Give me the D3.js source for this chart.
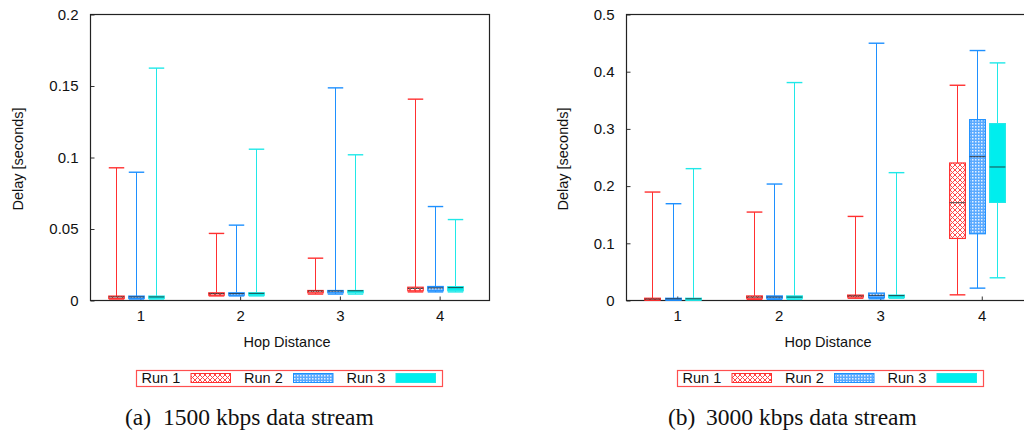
<!DOCTYPE html>
<html><head><meta charset="utf-8">
<script src="https://cdn.jsdelivr.net/npm/d3@7"></script>
<style>body{margin:0;background:#fff;overflow:hidden}</style>
</head><body>
<svg id="c" width="1024" height="432"></svg>
<script>
// ---------- data ----------
const hops = [1, 2, 3, 4];
const runs = ["Run 1", "Run 2", "Run 3"];
const captionsTag = ["(a)", "(b)"];
const captionsText = ["1500 kbps data stream", "3000 kbps data stream"];
const yTicks1500 = [0, 0.05, 0.1, 0.15, 0.2];
const yTicks3000 = [0, 0.1, 0.2, 0.3, 0.4, 0.5];

// 1500 kbps: [run][hop]
const low1500  = [[0.0010,0.0032,0.0045,0.0060],[0.0010,0.0032,0.0045,0.0060],[0.0010,0.0032,0.0045,0.0060]];
const q1_1500  = [[0.0015,0.0037,0.0054,0.0068],[0.0015,0.0037,0.0054,0.0068],[0.0015,0.0037,0.0054,0.0068]];
const med1500  = [[0.0025,0.0048,0.0066,0.0085],[0.0025,0.0048,0.0066,0.0088],[0.0025,0.0050,0.0068,0.0090]];
const q3_1500  = [[0.0031,0.0054,0.0070,0.0093],[0.0031,0.0054,0.0070,0.0098],[0.0031,0.0054,0.0070,0.0097]];
const high1500 = [[0.0928,0.0469,0.0296,0.1408],[0.0897,0.0527,0.1487,0.0657],[0.1625,0.1058,0.1019,0.0566]];

// 3000 kbps: [run][hop]
const low3000  = [[0.0005,0.0020,0.0040,0.0099],[0.0005,0.0020,0.0030,0.0216],[0.0005,0.0020,0.0040,0.0397]];
const q1_3000  = [[0.0010,0.0040,0.0060,0.1085],[0.0010,0.0040,0.0050,0.1167],[0.0010,0.0040,0.0055,0.1715]];
const med3000  = [[0.0025,0.0060,0.0080,0.1710],[0.0030,0.0060,0.0090,0.2515],[0.0030,0.0060,0.0085,0.2334]];
const q3_3000  = [[0.0040,0.0080,0.0095,0.2404],[0.0040,0.0080,0.0130,0.3162],[0.0040,0.0080,0.0095,0.3092]];
const high3000 = [[0.1896,0.1546,0.1470,0.3763],[0.1692,0.2036,0.4498,0.4370],[0.2305,0.3810,0.2235,0.4154]];

// ---------- styles ----------
const colors = ["#ff3030", "#1e90ff", "#20e8e8"];
const fills = ["url(#hatchRed)", "url(#checkBlue)", "#00eeee"];
const offsets = [-0.245, -0.045, 0.155];
const boxW = 0.155;

const svg = d3.select("#c");
const defs = svg.append("defs");
// red crosshatch
const pr = defs.append("pattern").attr("id","hatchRed").attr("patternUnits","userSpaceOnUse")
  .attr("width",5).attr("height",5);
pr.append("rect").attr("width",5).attr("height",5).attr("fill","#fff");
pr.append("path").attr("d","M0,0L5,5M5,0L0,5").attr("stroke","#ff4848").attr("stroke-width",1);
// blue checker
const pb = defs.append("pattern").attr("id","checkBlue").attr("patternUnits","userSpaceOnUse")
  .attr("width",3).attr("height",3);
pb.append("rect").attr("width",3).attr("height",3).attr("fill","#5aaaff");
pb.append("rect").attr("width",1.5).attr("height",1.5).attr("fill","#e4f0ff");

const panels = [
  {x0:90.5, x1:489.5, y0:14.5, y1:300.5, ymax:0.2, ticks:yTicks1500,
   low:low1500,q1:q1_1500,med:med1500,q3:q3_1500,high:high1500,
   ylabX:23, xlabX:287, legX:136.5, legW:306, capX:125, capX2:163},
  {x0:626.5, x1:1032.5, y0:14.5, y1:300.5, ymax:0.5, ticks:yTicks3000,
   low:low3000,q1:q1_3000,med:med3000,q3:q3_3000,high:high3000,
   ylabX:568, xlabX:828, legX:677.5, legW:306, capX:668, capX2:706}
];

const sans = "'Liberation Sans', Arial, sans-serif";
const serif = "'Liberation Serif', 'Times New Roman', serif";

panels.forEach((p, pi) => {
  const x = d3.scaleLinear().domain([0.5, 4.5]).range([p.x0, p.x1]);
  const y = d3.scaleLinear().domain([0, p.ymax]).range([p.y1, p.y0]);
  const g = svg.append("g");

  // y axis (ticks inward)
  const ya = g.append("g").attr("transform",`translate(${p.x0},0)`)
    .call(d3.axisLeft(y).tickValues(p.ticks).tickSize(-4).tickPadding(12).tickFormat(d => String(d)));
  ya.select(".domain").remove();
  ya.selectAll("line").attr("stroke","#333");
  ya.selectAll("text").attr("font-family",sans).attr("font-size",15).attr("fill","#111");

  // x axis
  const xa = g.append("g").attr("transform",`translate(0,${p.y1})`)
    .call(d3.axisBottom(x).tickValues(hops).tickSize(-4).tickPadding(10).tickFormat(d3.format("d")));
  xa.select(".domain").remove();
  xa.selectAll("line").attr("stroke","#333");
  xa.selectAll("text").attr("font-family",sans).attr("font-size",15).attr("fill","#111");

  // frame
  g.append("rect").attr("x",p.x0).attr("y",p.y0).attr("width",p.x1-p.x0).attr("height",p.y1-p.y0)
    .attr("fill","none").attr("stroke","#222").attr("stroke-width",1.2);

  // boxes
  runs.forEach((r, ri) => {
    hops.forEach((h, hi) => {
      const cx = Math.round(x(h + offsets[ri])) + 0.5;
      const half = (x(h + boxW/2) - x(h - boxW/2)) / 2;
      const col = colors[ri];
      const bg = g.append("g");
      const lo = y(p.low[ri][hi]), q1 = y(p.q1[ri][hi]), md = y(p.med[ri][hi]),
            q3 = y(p.q3[ri][hi]), hiV = y(p.high[ri][hi]);
      // whiskers
      bg.append("line").attr("x1",cx).attr("x2",cx).attr("y1",q3).attr("y2",hiV).attr("stroke",col);
      bg.append("line").attr("x1",cx).attr("x2",cx).attr("y1",q1).attr("y2",lo).attr("stroke",col);
      bg.append("line").attr("x1",cx-half).attr("x2",cx+half).attr("y1",hiV).attr("y2",hiV).attr("stroke",col).attr("stroke-width",1.4);
      bg.append("line").attr("x1",cx-half).attr("x2",cx+half).attr("y1",lo).attr("y2",lo).attr("stroke",col).attr("stroke-width",1.4);
      // box
      bg.append("rect").attr("x",cx-half).attr("y",q3).attr("width",2*half).attr("height",Math.max(1.5,q1-q3))
        .attr("fill",fills[ri]).attr("stroke",col).attr("stroke-width",1.2);
      // median
      bg.append("line").attr("x1",cx-half).attr("x2",cx+half).attr("y1",md).attr("y2",md)
        .attr("stroke","#222").attr("stroke-width",1).attr("opacity",0.8);
    });
  });

  // axis titles
  g.append("text").attr("transform",`translate(${p.ylabX},159) rotate(-90)`).attr("text-anchor","middle")
    .attr("font-family",sans).attr("font-size",14.5).attr("fill","#111").text("Delay [seconds]");
  g.append("text").attr("x",p.xlabX).attr("y",347).attr("text-anchor","middle")
    .attr("font-family",sans).attr("font-size",14.5).attr("fill","#111").text("Hop Distance");

  // legend
  const lg = g.append("g");
  lg.append("rect").attr("x",p.legX).attr("y",370.5).attr("width",p.legW).attr("height",16)
    .attr("fill","#fff").attr("stroke","#ff5050").attr("stroke-width",1.2);
  runs.forEach((r, ri) => {
    const tx = p.legX + 5 + ri*102.5;
    lg.append("text").attr("x",tx).attr("y",382.5).attr("font-family",sans).attr("font-size",14.5)
      .attr("fill","#111").text(r);
    lg.append("rect").attr("x",tx+49.5).attr("y",373.5).attr("width",39.5).attr("height",9)
      .attr("fill",fills[ri]).attr("stroke",colors[ri]).attr("stroke-width",1);
  });

  // caption
  g.append("text").attr("x",p.capX).attr("y",425).attr("font-family",serif).attr("font-size",23.5)
    .attr("fill","#111").text(captionsTag[pi]);
  g.append("text").attr("x",p.capX2).attr("y",425).attr("font-family",serif).attr("font-size",23.5)
    .attr("fill","#111").text(captionsText[pi]);
});
</script>
</body></html>
